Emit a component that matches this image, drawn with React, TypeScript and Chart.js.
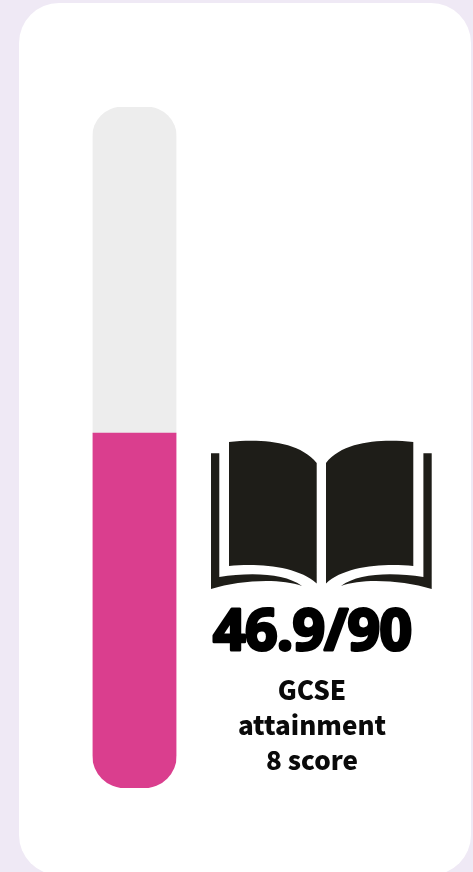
import React, { useEffect, useRef } from "react";
import { Chart, registerables } from "chart.js";

Chart.register(...registerables);

const categories = ["GCSE attainment 8 score"];
const scoreValues = [46.9];
const remainderValues = [43.1];
const maxScore = 90;
const labelLines = ["GCSE", "attainment", "8 score"];
const scoreText = "46.9/90";

const BODY_FONT = '"Noto Sans CJK SC", "Noto Sans", sans-serif';

export default function App() {
  const ref = useRef<HTMLCanvasElement | null>(null);
  useEffect(() => {
    const chart = new Chart(ref.current!, {
      type: "bar",
      data: {
        labels: categories,
        datasets: [
          {
            data: scoreValues,
            backgroundColor: "#DA3E8E",
            borderRadius: { bottomLeft: 33, bottomRight: 33, topLeft: 0, topRight: 0 },
            borderSkipped: false,
            barPercentage: 1,
            categoryPercentage: 1,
          },
          {
            data: remainderValues,
            backgroundColor: "#EDEDED",
            borderRadius: { topLeft: 30, topRight: 30, bottomLeft: 0, bottomRight: 0 },
            borderSkipped: false,
            barPercentage: 1,
            categoryPercentage: 1,
          },
        ],
      },
      options: {
        animation: false,
        responsive: false,
        layout: { padding: { left: 92.5, right: 296.5, top: 107, bottom: 84 } },
        plugins: { legend: { display: false }, tooltip: { enabled: false } },
        scales: {
          x: { stacked: true, display: false },
          y: { stacked: true, display: false, min: 0, max: maxScore },
        },
      },
    });
    return () => chart.destroy();
  }, []);

  return (
    <div style={{ position: "fixed", left: 0, top: 0, width: 473, height: 872, background: "#EFE9F5", overflow: "hidden" }}>
      <div style={{ position: "absolute", left: 19, top: 3, width: 452, height: 872, background: "#FFFFFF", borderRadius: 40 }} />
      <canvas ref={ref} width={473} height={872} style={{ position: "absolute", left: 0, top: 0, width: 473, height: 872 }} />
      <svg width={473} height={872} style={{ position: "absolute", left: 0, top: 0 }}>
        <g fill="#1E1D18">
          <path d="M229 442 C258 439 298 440 316.7 463 L316.7 583.5 C298 566 258 563 229 566 Z" />
          <path d="M413.3 442 C384 439 344 440 326 463 L326 583.5 C344 566 384 563 413.3 566 Z" />
          <path d="M211 453.3 L219.3 453.3 L219.3 577 C250 572 285 573 302 586 C280 578 240 580 211 589 Z" />
          <path d="M431.7 453.3 L423.4 453.3 L423.4 577 C392 572 358 573 341 586 C362 578 402 580 431.7 589 Z" />
        </g>
        <text
          x={213}
          y={650}
          textLength={199}
          lengthAdjust="spacing"
          fontFamily='"Noto Sans", sans-serif'
          fontWeight={700}
          fontSize={57}
          fill="#000"
          stroke="#000"
          strokeWidth={3}
          strokeLinejoin="round"
        >
          {scoreText}
        </text>
      </svg>
      <div style={{ position: "absolute", left: 152, width: 320, top: 671, textAlign: "center", fontFamily: BODY_FONT, fontWeight: 900, fontSize: 26, lineHeight: "35px", color: "#0A0A0A" }}>
        {labelLines.map((l) => (
          <div key={l}>{l}</div>
        ))}
      </div>
    </div>
  );
}
